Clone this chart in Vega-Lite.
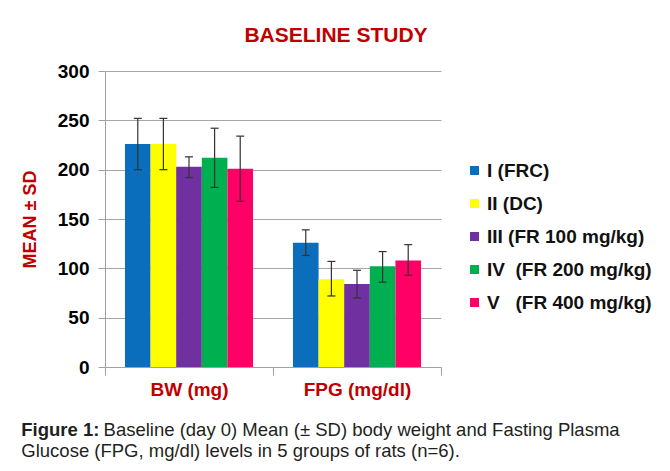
{
  "$schema": "https://vega.github.io/schema/vega-lite/v6.json",
  "background": "white",
  "padding": {"left": 21, "top": 25, "right": 5, "bottom": 5},
  "title": {
    "text": "Figure 1:",
    "subtitle": ["\u200b\u00a0\u00a0\u00a0\u00a0\u00a0\u00a0\u00a0\u00a0\u00a0\u00a0\u00a0\u00a0\u00a0\u00a0\u00a0\u00a0Baseline (day 0) Mean (± SD) body weight and Fasting Plasma", "Glucose (FPG, mg/dl) levels in 5 groups of rats (n=6)."],
    "orient": "bottom",
    "anchor": "start",
    "frame": "bounds",
    "dx": 0,
    "font": "Liberation Sans",
    "fontSize": 18.5,
    "fontWeight": "bold",
    "color": "#231f20",
    "subtitleFont": "Liberation Sans",
    "subtitleFontSize": 18.5,
    "subtitleFontWeight": "normal",
    "subtitleColor": "#231f20",
    "subtitlePadding": -18.5,
    "subtitleLineHeight": 21,
    "offset": 22
  },
  "vconcat": [
    {
      "width": 336,
      "height": 296,
      "title": {
        "text": "BASELINE STUDY",
        "font": "Liberation Sans",
        "fontSize": 21,
        "fontWeight": "bold",
        "color": "#C00000",
        "anchor": "middle",
        "frame": "group",
        "dx": 63,
        "offset": 16
      },
      "data": {
        "values": [
          {"measure": "BW (mg)", "group": "I (FRC)", "mean": 226, "lo": 200, "hi": 252},
          {"measure": "BW (mg)", "group": "II (DC)", "mean": 226, "lo": 200, "hi": 252},
          {"measure": "BW (mg)", "group": "III (FR 100 mg/kg)", "mean": 203, "lo": 192, "hi": 213},
          {"measure": "BW (mg)", "group": "IV\u00a0 (FR 200 mg/kg)", "mean": 212, "lo": 182, "hi": 242},
          {"measure": "BW (mg)", "group": "V\u00a0\u00a0 (FR 400 mg/kg)", "mean": 201, "lo": 168, "hi": 234},
          {"measure": "FPG (mg/dl)", "group": "I (FRC)", "mean": 126, "lo": 113, "hi": 139},
          {"measure": "FPG (mg/dl)", "group": "II (DC)", "mean": 89, "lo": 72, "hi": 107},
          {"measure": "FPG (mg/dl)", "group": "III (FR 100 mg/kg)", "mean": 84, "lo": 70, "hi": 98},
          {"measure": "FPG (mg/dl)", "group": "IV\u00a0 (FR 200 mg/kg)", "mean": 102, "lo": 86, "hi": 117},
          {"measure": "FPG (mg/dl)", "group": "V\u00a0\u00a0 (FR 400 mg/kg)", "mean": 108, "lo": 93, "hi": 124}
        ]
      },
      "encoding": {
        "x": {
          "field": "measure",
          "type": "nominal",
          "sort": ["BW (mg)", "FPG (mg/dl)"],
          "scale": {"paddingInner": 0, "paddingOuter": 0},
          "axis": {
            "title": null,
            "labelAngle": 0,
            "labelFont": "Liberation Sans",
            "labelFontSize": 19,
            "labelFontWeight": "bold",
            "labelColor": "#C00000",
            "labelPadding": 5,
            "tickBand": "extent",
            "tickSize": 8,
            "tickColor": "#A0A0A0",
            "domainColor": "#A0A0A0",
            "grid": false
          }
        },
        "xOffset": {
          "field": "group",
          "type": "nominal",
          "sort": ["I (FRC)", "II (DC)", "III (FR 100 mg/kg)", "IV\u00a0 (FR 200 mg/kg)", "V\u00a0\u00a0 (FR 400 mg/kg)"],
          "scale": {"paddingInner": 0, "paddingOuter": 0.78}
        }
      },
      "layer": [
        {
          "mark": {"type": "bar"},
          "encoding": {
            "y": {
              "field": "mean",
              "type": "quantitative",
              "scale": {"domain": [0, 300]},
              "axis": {
                "title": "MEAN ± SD",
                "titleFont": "Liberation Sans",
                "titleFontSize": 18,
                "titleFontWeight": "bold",
                "titleColor": "#C00000",
                "titlePadding": 18,
                "values": [0, 50, 100, 150, 200, 250, 300],
                "labelFont": "Liberation Sans",
                "labelFontSize": 19,
                "labelFontWeight": "bold",
                "labelColor": "#000000",
                "labelPadding": 9,
                "tickSize": 7,
                "tickColor": "#A0A0A0",
                "domainColor": "#A0A0A0",
                "gridColor": "#A6A6A6"
              }
            },
            "color": {
              "field": "group",
              "type": "nominal",
              "scale": {
                "domain": ["I (FRC)", "II (DC)", "III (FR 100 mg/kg)", "IV\u00a0 (FR 200 mg/kg)", "V\u00a0\u00a0 (FR 400 mg/kg)"],
                "range": ["#0A6EBD", "#FFFF00", "#7030A0", "#00B050", "#FF0066"]
              },
              "legend": {
                "title": null,
                "orient": "none",
                "legendX": 360,
                "legendY": 90,
                "symbolType": "square",
                "symbolSize": 81,
                "symbolStrokeWidth": 0,
                "labelFont": "Liberation Sans",
                "labelFontSize": 19,
                "labelFontWeight": "bold",
                "labelColor": "#111111",
                "labelOffset": 3,
                "rowPadding": 13,
                "labelLimit": 300
              }
            }
          }
        },
        {
          "mark": {"type": "rule", "color": "#333333", "strokeWidth": 1.2},
          "encoding": {
            "y": {"field": "lo", "type": "quantitative"},
            "y2": {"field": "hi"}
          }
        },
        {
          "mark": {"type": "tick", "orient": "horizontal", "size": 8, "thickness": 1.2, "color": "#333333"},
          "encoding": {"y": {"field": "lo", "type": "quantitative"}}
        },
        {
          "mark": {"type": "tick", "orient": "horizontal", "size": 8, "thickness": 1.2, "color": "#333333"},
          "encoding": {"y": {"field": "hi", "type": "quantitative"}}
        }
      ]
    }
  ],
  "config": {
    "view": {"stroke": null},
    "tick": {"opacity": 1}
  }
}
